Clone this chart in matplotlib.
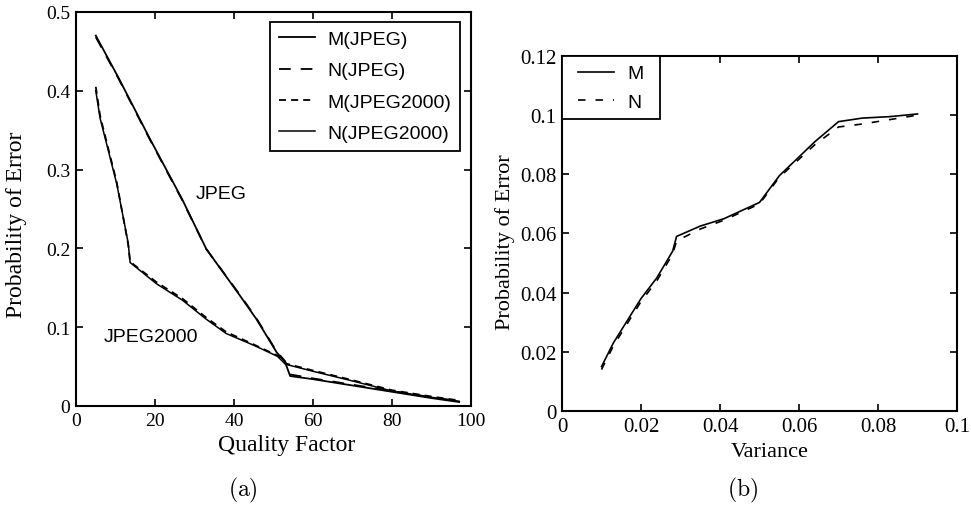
import matplotlib
matplotlib.use("Agg")
import matplotlib.pyplot as plt

# ==========================================
# DATA
# ==========================================
# (a) probability of error vs JPEG / JPEG2000 quality factor
jpeg_q = [5, 10.7, 18.7, 26.8, 33, 41.5, 45.7, 50.8, 52.9, 54.2, 60, 70, 80, 90, 97]
m_jpeg = [0.47, 0.417, 0.339, 0.263, 0.199, 0.140, 0.110, 0.068, 0.056, 0.038, 0.034, 0.026, 0.018, 0.010, 0.005]
n_jpeg = [0.468, 0.416, 0.338, 0.262, 0.199, 0.141, 0.111, 0.069, 0.057, 0.040, 0.035, 0.027, 0.019, 0.011, 0.006]

j2k_q = [5, 6.1, 10.3, 13.2, 13.7, 20.4, 27, 33, 38, 45, 51, 53, 60, 69, 80, 90, 97]
m_j2k = [0.405, 0.368, 0.284, 0.205, 0.183, 0.157, 0.136, 0.112, 0.094, 0.078, 0.064, 0.054, 0.045, 0.034, 0.020, 0.012, 0.007]
n_j2k = [0.400, 0.365, 0.282, 0.207, 0.182, 0.155, 0.134, 0.110, 0.092, 0.077, 0.063, 0.053, 0.044, 0.033, 0.019, 0.011, 0.006]

# (b) probability of error vs noise variance
variance = [0.010, 0.013, 0.020, 0.024, 0.028, 0.029, 0.035, 0.041, 0.050, 0.055, 0.064, 0.070, 0.076, 0.083, 0.090]
m_var = [0.015, 0.023, 0.038, 0.045, 0.054, 0.059, 0.0625, 0.065, 0.0705, 0.0795, 0.091, 0.0978, 0.0990, 0.0995, 0.1004]
n_var = [0.014, 0.022, 0.037, 0.044, 0.053, 0.0575, 0.0615, 0.0645, 0.070, 0.079, 0.090, 0.0960, 0.0970, 0.0985, 0.1000]

SERIF = "Liberation Serif"
SANS = "Liberation Sans"
plt.rcParams["mathtext.fontset"] = "cm"

fig = plt.figure(figsize=(9.71, 5.06), dpi=100)
ax1 = fig.add_axes([0.0783, 0.1957, 0.4068, 0.7787])
ax2 = fig.add_axes([0.5788, 0.1858, 0.4068, 0.7016])


def style_axes(ax, size):
    for s in ax.spines.values():
        s.set_linewidth(1.5)
    ax.tick_params(direction="in", top=True, right=True, length=5, width=1.2,
                   labelsize=size, pad=4)
    for lbl in ax.get_xticklabels() + ax.get_yticklabels():
        lbl.set_fontfamily(SERIF)


def make_legend(ax, anchor, spacing):
    leg = ax.legend(loc="upper left", bbox_to_anchor=anchor,
                    prop={"family": SANS, "size": 14}, frameon=True, fancybox=False,
                    edgecolor="black", framealpha=1, handlelength=1.85,
                    labelspacing=spacing, borderpad=0.45, handletextpad=0.65,
                    borderaxespad=0)
    leg.get_frame().set_linewidth(1.3)
    return leg


# ----- (a) -----
ax1.plot(jpeg_q, m_jpeg, color="black", lw=1.3, label="M(JPEG)")
ax1.plot(jpeg_q, n_jpeg, color="black", lw=1.3, ls=(0, (6.5, 5.5)), label="N(JPEG)")
ax1.plot(j2k_q, m_j2k, color="black", lw=1.3, ls=(0, (3.9, 2.8)), label="M(JPEG2000)")
ax1.plot(j2k_q, n_j2k, color="black", lw=1.1, label="N(JPEG2000)")
ax1.set_xlim(0, 100)
ax1.set_ylim(0, 0.5)
ax1.set_xticks([0, 20, 40, 60, 80, 100])
ax1.set_yticks([0, 0.1, 0.2, 0.3, 0.4, 0.5])
ax1.set_yticklabels(["0", "0.1", "0.2", "0.3", "0.4", "0.5"])
style_axes(ax1, 14)
ax1.set_xlabel("Quality Factor", fontfamily=SERIF, fontsize=17)
ax1.set_ylabel("Probability of Error", fontfamily=SERIF, fontsize=17)
ax1.xaxis.set_label_coords(0.534, -0.072)
ax1.yaxis.set_label_coords(-0.124, 0.462)
ax1.text(36.7, 0.269, "JPEG", fontfamily=SANS, fontsize=14, ha="center", va="center")
ax1.text(19, 0.088, "JPEG2000", fontfamily=SANS, fontsize=14, ha="center", va="center")
make_legend(ax1, (0.491, 0.975), 0.7)

# ----- (b) -----
ax2.plot(variance, m_var, color="black", lw=1.2, label="M")
ax2.plot(variance, n_var, color="black", lw=1.2, ls=(0, (4.5, 6)), label="N")
ax2.set_xlim(0, 0.1)
ax2.set_ylim(0, 0.12)
ax2.set_xticks([0, 0.02, 0.04, 0.06, 0.08, 0.1])
ax2.set_xticklabels(["0", "0.02", "0.04", "0.06", "0.08", "0.1"])
ax2.set_yticks([0, 0.02, 0.04, 0.06, 0.08, 0.1, 0.12])
ax2.set_yticklabels(["0", "0.02", "0.04", "0.06", "0.08", "0.1", "0.12"])
style_axes(ax2, 15)
ax2.set_xlabel("Variance", fontfamily=SERIF, fontsize=16)
ax2.set_ylabel("Probability of Error", fontfamily=SERIF, fontsize=16)
ax2.xaxis.set_label_coords(0.527, -0.087)
ax2.yaxis.set_label_coords(-0.119, 0.479)
leg2 = make_legend(ax2, (0.0, 1.0), 0.55)
leg2._legend_box.set_width(80)

# captions
fig.text(243 / 971, 1 - 490 / 506, r"$\mathrm{(a)}$", fontsize=17,
         ha="center", va="center")
fig.text(743 / 971, 1 - 490 / 506, r"$\mathrm{(b)}$", fontsize=17,
         ha="center", va="center")

fig.savefig("out.png", dpi=100)
plt.close(fig)
